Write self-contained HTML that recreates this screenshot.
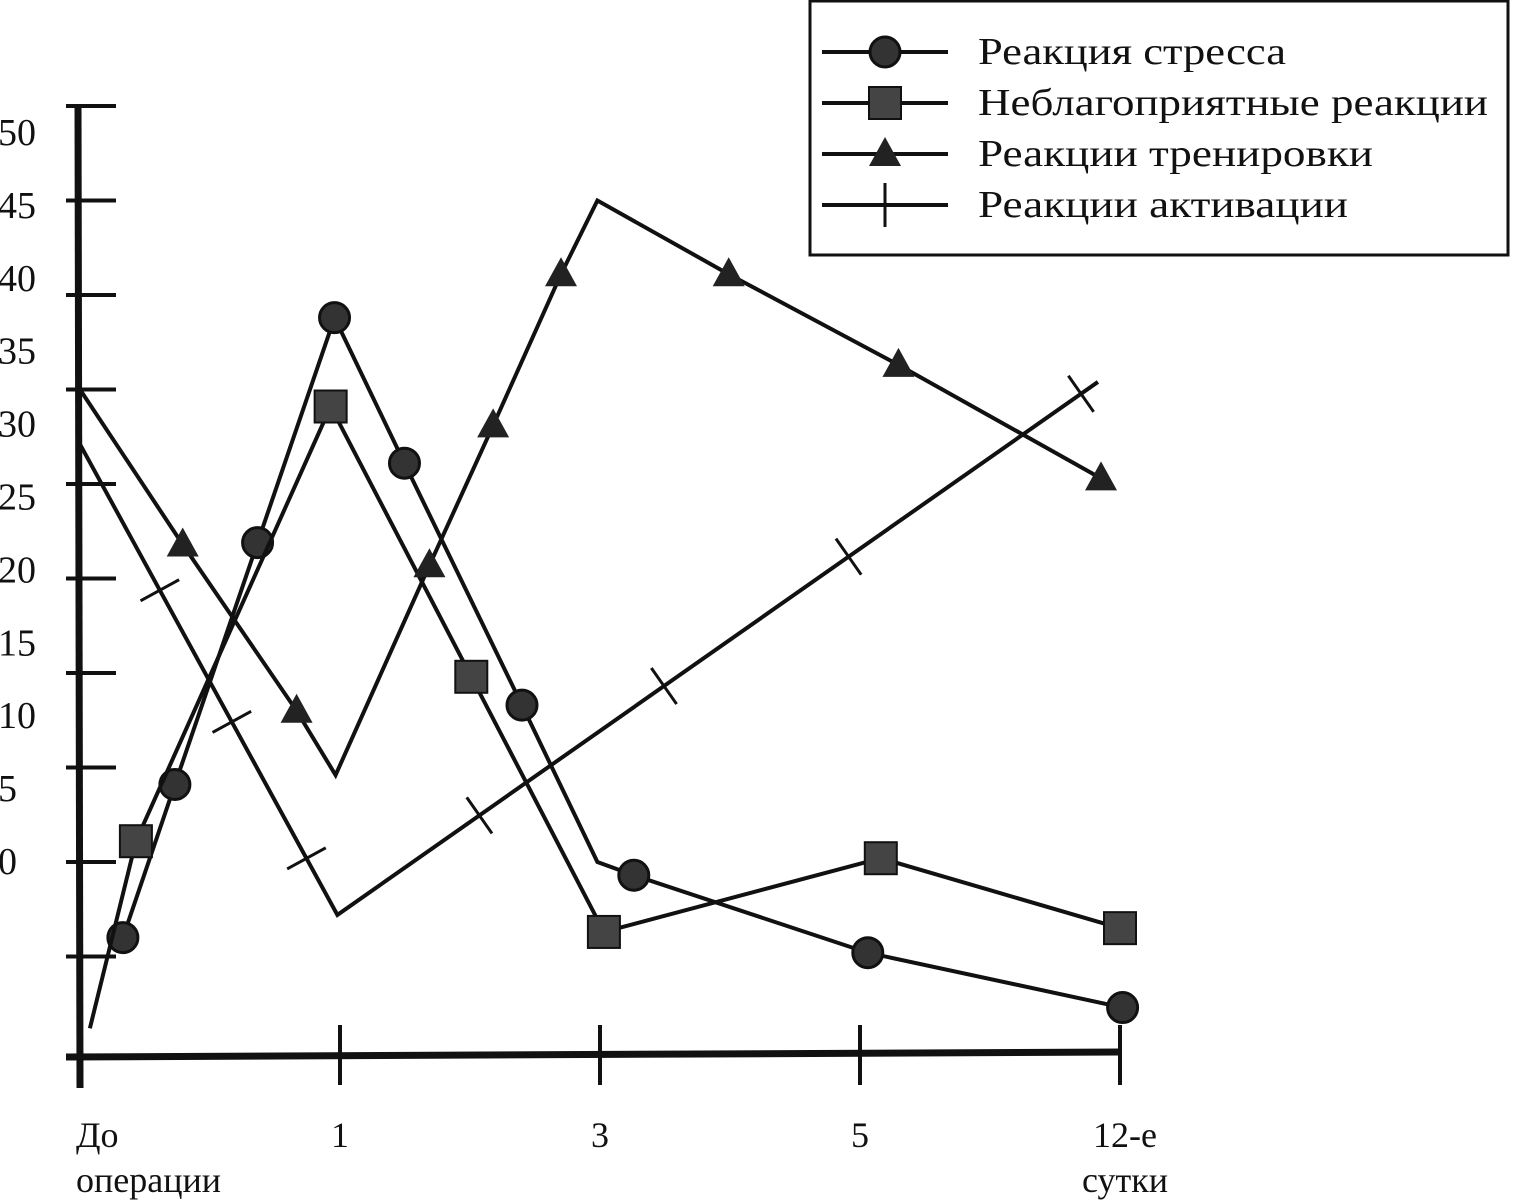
<!DOCTYPE html>
<html><head><meta charset="utf-8"><style>
body{margin:0;background:#fff;}
svg{display:block;font-family:"Liberation Serif","DejaVu Serif",serif;}
</style></head><body>
<svg id="chart" width="1514" height="1200" viewBox="0 0 1514 1200">
<g id="axes"></g>
<g id="series"></g>
<g id="legend">
<rect x="810" y="1" width="698" height="254" fill="#fff" stroke="#111" stroke-width="3"/>
</g>
</svg>
<script>
const categories=["До|операции","1","3","5","12-е|сутки"];
const yTickValues=[-5,0,5,10,15,20,25,30,35,40];
const yTickLabels=["50","45","40","35","30","25","20","15","10","5","0"];
const stressT=[0.165,0.365,0.683,0.979,1.248,1.70,1.99,2.13,3.03,4.01];
const stressV=[-4.0,4.1,16.9,28.8,21.1,8.3,0,-0.7,-4.8,-7.7];
const stressMark=[1,1,1,1,1,1,0,1,1,1];
const adverseT=[0.038,0.215,0.964,1.505,2.015,3.08,4.0];
const adverseV=[-8.8,1.1,24.1,9.8,-3.7,0.2,-3.5];
const adverseMark=[0,1,1,1,1,1,1];
const trainT=[0,0.395,0.833,0.983,1.344,1.589,1.85,1.99,2.495,3.148,3.927];
const trainV=[25.0,16.8,8.0,4.6,15.7,23.1,31.1,35.0,31.1,26.3,20.3];
const trainMark=[0,1,1,0,1,1,1,0,1,1,1];
const actT=[0,0.99,3.915];
const actV=[22.1,-2.8,25.4];
const actMarkT=[0.307,0.584,0.871,1.536,2.246,2.956,3.85];
const legendLabels=["Реакция стресса","Неблагоприятные реакции","Реакции тренировки","Реакции активации"];

const NS="http://www.w3.org/2000/svg";
const X=t=>80+t*260;
const Y=v=>862-v*18.9;
function mk(tag,at,parent){const e=document.createElementNS(NS,tag);for(const k in at)e.setAttribute(k,at[k]);parent.appendChild(e);return e;}
const axes=document.getElementById('axes'),ser=document.getElementById('series'),leg=document.getElementById('legend');
let e;
e=mk('line',{x1:78,y1:104,x2:80,y2:1088,stroke:'#111','stroke-width':7},axes);

e=mk('line',{x1:66,y1:1057,x2:1122,y2:1052,stroke:'#111','stroke-width':7},axes);

yTickValues.forEach(v=>{e=mk('line',{x1:66,y1:Y(v),x2:116,y2:Y(v),stroke:'#111','stroke-width':4},axes);
});
yTickLabels.forEach(s=>{const n=Number(s);e=mk('text',{x:-2,y:862-n*14.58+12,'font-size':38,fill:'#111'},axes);e.textContent=s;
});
categories.forEach((c,i)=>{const x=X(i);
if(i>0){e=mk('line',{x1:x,y1:1025,x2:x,y2:1085,stroke:'#111','stroke-width':4},axes);}
const parts=c.split('|');parts.forEach((p,j)=>{e=mk('text',{x:i==0?76:(i==4?x+5:x),y:1147+j*45,'font-size':36,'text-anchor':i==0?'start':'middle',fill:'#111'},axes);e.textContent=p;
});});
function marker(type,x,y,g,ang){let m;
if(type=='circle')m=mk('circle',{cx:x,cy:y,r:15,fill:'#333',stroke:'#111','stroke-width':3},g);
else if(type=='square')m=mk('rect',{x:x-16,y:y-16,width:32,height:32,fill:'#444',stroke:'#111','stroke-width':2},g);
else if(type=='tri')m=mk('polygon',{points:`${x},${y-17} ${x-16},${y+12} ${x+16},${y+12}`,fill:'#222'},g);
else {const a=(ang===undefined?0:ang)+Math.PI/2,L=22;
m=mk('line',{x1:x-L*Math.cos(a),y1:y-L*Math.sin(a),x2:x+L*Math.cos(a),y2:y+L*Math.sin(a),stroke:'#111','stroke-width':3},g);}
}
function series(name,T,V,M,type){const g=mk('g',{},ser);
e=mk('polyline',{points:T.map((t,i)=>X(t)+','+Y(V[i])).join(' '),fill:'none',stroke:'#111','stroke-width':4,'stroke-linejoin':'miter'},g);

T.forEach((t,i)=>{if(M[i])marker(type,X(t),Y(V[i]),g);});return g;}
series('stress-series',stressT,stressV,stressMark,'circle');
series('adverse-series',adverseT,adverseV,adverseMark,'square');
series('training-series',trainT,trainV,trainMark,'tri');
const ag=series('activation-series',actT,actV,[0,0,0],'plus');
actMarkT.forEach(t=>{let k=0;while(k<actT.length-2&&t>actT[k+1])k++;
const f=(t-actT[k])/(actT[k+1]-actT[k]);const v=actV[k]+f*(actV[k+1]-actV[k]);
const ang=Math.atan2(Y(actV[k+1])-Y(actV[k]),X(actT[k+1])-X(actT[k]));
marker('plus',X(t),Y(v),ag,ang);});
const types=['circle','square','tri','plus'];
legendLabels.forEach((l,i)=>{const y=52+i*51;
e=mk('line',{x1:822,y1:y,x2:948,y2:y,stroke:'#111','stroke-width':4},leg);
marker(types[i],885,y,leg,0);
e=mk('text',{x:978,y:y+12,'font-size':38,fill:'#111',textLength:[308,510,395,370][i],lengthAdjust:'spacingAndGlyphs'},leg);e.textContent=l;
});
</script>
</body></html>
